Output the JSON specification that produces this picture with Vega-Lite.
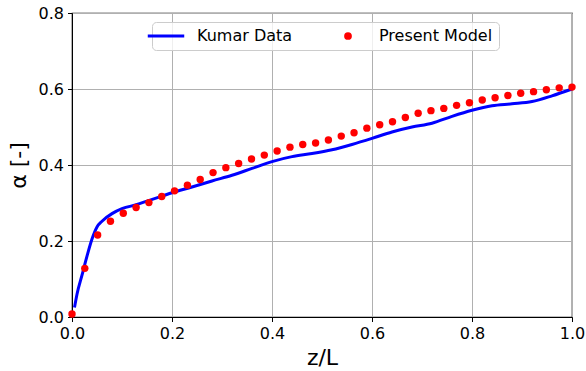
{
  "$schema": "https://vega.github.io/schema/vega-lite/v6.json",
  "autosize": "none",
  "width": 500,
  "height": 304,
  "padding": {"left": 72, "top": 13, "right": 14, "bottom": 54},
  "background": "white",
  "config": {
    "font": "DejaVu Sans",
    "view": {"stroke": "black", "strokeWidth": 1.2},
    "axis": {
      "domainColor": "black",
      "tickColor": "black",
      "tickSize": 4.5,
      "labelFontSize": 16,
      "labelColor": "black",
      "titleColor": "black",
      "titleFontWeight": "normal",
      "titleFontSize": 22,
      "gridColor": "#b0b0b0",
      "gridWidth": 1,
      "gridOpacity": 1,
      "labelFlush": false
    }
  },
  "data": {
    "values": [
      {"z": 0.005, "alpha": 0.025, "series": "Kumar Data"},
      {"z": 0.01, "alpha": 0.06, "series": "Kumar Data"},
      {"z": 0.02, "alpha": 0.11, "series": "Kumar Data"},
      {"z": 0.03, "alpha": 0.16, "series": "Kumar Data"},
      {"z": 0.04, "alpha": 0.205, "series": "Kumar Data"},
      {"z": 0.05, "alpha": 0.237, "series": "Kumar Data"},
      {"z": 0.06, "alpha": 0.252, "series": "Kumar Data"},
      {"z": 0.08, "alpha": 0.272, "series": "Kumar Data"},
      {"z": 0.10, "alpha": 0.285, "series": "Kumar Data"},
      {"z": 0.13, "alpha": 0.296, "series": "Kumar Data"},
      {"z": 0.15, "alpha": 0.305, "series": "Kumar Data"},
      {"z": 0.18, "alpha": 0.318, "series": "Kumar Data"},
      {"z": 0.20, "alpha": 0.327, "series": "Kumar Data"},
      {"z": 0.24, "alpha": 0.342, "series": "Kumar Data"},
      {"z": 0.28, "alpha": 0.358, "series": "Kumar Data"},
      {"z": 0.32, "alpha": 0.373, "series": "Kumar Data"},
      {"z": 0.36, "alpha": 0.391, "series": "Kumar Data"},
      {"z": 0.40, "alpha": 0.409, "series": "Kumar Data"},
      {"z": 0.44, "alpha": 0.422, "series": "Kumar Data"},
      {"z": 0.48, "alpha": 0.430, "series": "Kumar Data"},
      {"z": 0.52, "alpha": 0.440, "series": "Kumar Data"},
      {"z": 0.56, "alpha": 0.454, "series": "Kumar Data"},
      {"z": 0.60, "alpha": 0.470, "series": "Kumar Data"},
      {"z": 0.64, "alpha": 0.487, "series": "Kumar Data"},
      {"z": 0.68, "alpha": 0.500, "series": "Kumar Data"},
      {"z": 0.72, "alpha": 0.510, "series": "Kumar Data"},
      {"z": 0.76, "alpha": 0.528, "series": "Kumar Data"},
      {"z": 0.80, "alpha": 0.544, "series": "Kumar Data"},
      {"z": 0.84, "alpha": 0.556, "series": "Kumar Data"},
      {"z": 0.88, "alpha": 0.561, "series": "Kumar Data"},
      {"z": 0.92, "alpha": 0.567, "series": "Kumar Data"},
      {"z": 0.96, "alpha": 0.582, "series": "Kumar Data"},
      {"z": 1.00, "alpha": 0.600, "series": "Kumar Data"},
      {"z": 0.0, "alpha": 0.008, "series": "Present Model"},
      {"z": 0.0256, "alpha": 0.128, "series": "Present Model"},
      {"z": 0.0513, "alpha": 0.216, "series": "Present Model"},
      {"z": 0.0769, "alpha": 0.252, "series": "Present Model"},
      {"z": 0.1026, "alpha": 0.273, "series": "Present Model"},
      {"z": 0.1282, "alpha": 0.288, "series": "Present Model"},
      {"z": 0.1538, "alpha": 0.301, "series": "Present Model"},
      {"z": 0.1795, "alpha": 0.317, "series": "Present Model"},
      {"z": 0.2051, "alpha": 0.332, "series": "Present Model"},
      {"z": 0.2308, "alpha": 0.347, "series": "Present Model"},
      {"z": 0.2564, "alpha": 0.362, "series": "Present Model"},
      {"z": 0.2821, "alpha": 0.380, "series": "Present Model"},
      {"z": 0.3077, "alpha": 0.393, "series": "Present Model"},
      {"z": 0.3333, "alpha": 0.404, "series": "Present Model"},
      {"z": 0.359, "alpha": 0.416, "series": "Present Model"},
      {"z": 0.3846, "alpha": 0.426, "series": "Present Model"},
      {"z": 0.4103, "alpha": 0.437, "series": "Present Model"},
      {"z": 0.4359, "alpha": 0.447, "series": "Present Model"},
      {"z": 0.4615, "alpha": 0.454, "series": "Present Model"},
      {"z": 0.4872, "alpha": 0.458, "series": "Present Model"},
      {"z": 0.5128, "alpha": 0.466, "series": "Present Model"},
      {"z": 0.5385, "alpha": 0.476, "series": "Present Model"},
      {"z": 0.5641, "alpha": 0.485, "series": "Present Model"},
      {"z": 0.5897, "alpha": 0.497, "series": "Present Model"},
      {"z": 0.6154, "alpha": 0.506, "series": "Present Model"},
      {"z": 0.641, "alpha": 0.514, "series": "Present Model"},
      {"z": 0.6667, "alpha": 0.525, "series": "Present Model"},
      {"z": 0.6923, "alpha": 0.536, "series": "Present Model"},
      {"z": 0.7179, "alpha": 0.543, "series": "Present Model"},
      {"z": 0.7436, "alpha": 0.549, "series": "Present Model"},
      {"z": 0.7692, "alpha": 0.557, "series": "Present Model"},
      {"z": 0.7949, "alpha": 0.564, "series": "Present Model"},
      {"z": 0.8205, "alpha": 0.571, "series": "Present Model"},
      {"z": 0.8462, "alpha": 0.577, "series": "Present Model"},
      {"z": 0.8718, "alpha": 0.583, "series": "Present Model"},
      {"z": 0.8974, "alpha": 0.589, "series": "Present Model"},
      {"z": 0.9231, "alpha": 0.593, "series": "Present Model"},
      {"z": 0.9487, "alpha": 0.598, "series": "Present Model"},
      {"z": 0.9744, "alpha": 0.603, "series": "Present Model"},
      {"z": 1.0, "alpha": 0.605, "series": "Present Model"}
    ]
  },
  "encoding": {
    "x": {
      "field": "z", "type": "quantitative",
      "scale": {"domain": [0, 1], "nice": false, "zero": false},
      "axis": {"title": "z/L", "values": [0, 0.2, 0.4, 0.6, 0.8, 1.0], "format": ".1f", "labelPadding": 3.5, "titlePadding": 6}
    },
    "y": {
      "field": "alpha", "type": "quantitative",
      "scale": {"domain": [0, 0.8], "nice": false},
      "axis": {"title": "α [-]", "values": [0, 0.2, 0.4, 0.6, 0.8], "format": ".1f", "labelPadding": 4, "titlePadding": 8}
    },
    "color": {
      "field": "series", "type": "nominal",
      "scale": {"domain": ["Kumar Data", "Present Model"], "range": ["#0000ff", "#ff0000"]},
      "legend": {
        "title": null,
        "orient": "none",
        "legendX": 80,
        "legendY": 9,
        "direction": "horizontal",
        "columns": 2,
        "columnPadding": 47,
        "labelFontSize": 16,
        "labelColor": "black",
        "labelOffset": 23,
        "symbolSize": 1330,
        "padding": 6,
        "fillColor": "rgba(255,255,255,0.8)",
        "strokeColor": "#cccccc",
        "cornerRadius": 4,
        "encode": {
          "symbols": {
            "update": {
              "shape": {"signal": "datum.value === 'Kumar Data' ? 'stroke' : 'circle'"},
              "size": {"signal": "datum.value === 'Kumar Data' ? 1330 : 60"},
              "strokeWidth": {"signal": "datum.value === 'Kumar Data' ? 3 : 0"},
              "fill": {"signal": "datum.value === 'Kumar Data' ? 'transparent' : '#ff0000'"},
              "stroke": {"signal": "datum.value === 'Kumar Data' ? '#0000ff' : 'transparent'"},
              "opacity": {"value": 1}
            }
          }
        }
      }
    }
  },
  "layer": [
    {
      "transform": [{"filter": "datum.series === 'Kumar Data'"}],
      "mark": {"type": "line", "strokeWidth": 3, "interpolate": "monotone", "clip": false}
    },
    {
      "transform": [{"filter": "datum.series === 'Present Model'"}],
      "mark": {"type": "point", "filled": true, "size": 55, "opacity": 1, "clip": false}
    }
  ]
}
